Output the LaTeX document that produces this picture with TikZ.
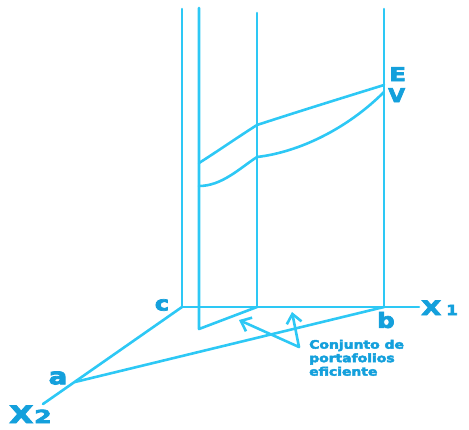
\documentclass[tikz,border=0pt]{standalone}
\usepackage{fontspec}
\newfontfamily\labfont{DejaVu Sans Bold}[FakeBold=3.5]
\usetikzlibrary{arrows.meta}
\definecolor{lineC}{RGB}{45,200,245}
\definecolor{textC}{RGB}{20,160,220}
\newcommand{\wide}[2]{\scalebox{#1}[1]{#2}}
\tikzset{
  ln/.style={draw=lineC, line width=2.6pt, line cap=round, line join=round},
  lab/.style={text=textC, inner sep=0pt, font=\labfont},
  arr/.style={ln, -{Straight Barb[length=9pt,width=15pt,line width=2.6pt]}}
}
\begin{document}
\begin{tikzpicture}[x=1pt,y=-1pt]
\useasboundingbox (0,0) rectangle (469,429);
% key points
\coordinate (c) at (182,307);
\coordinate (b) at (384,307);
\coordinate (a) at (75,382);
\coordinate (x2end) at (43,404);
\coordinate (x1end) at (419,307);
\coordinate (t1) at (182,9);
\coordinate (t2) at (199,8);
\coordinate (t3) at (257,13);
\coordinate (t4) at (384,9);
\coordinate (s2) at (199,329);
\coordinate (s3) at (257,307);
\coordinate (e1) at (199,163);
\coordinate (e2) at (257,125);
\coordinate (e3) at (384,85);
\coordinate (v1) at (199,186);
\coordinate (v2) at (257,157);
\coordinate (v3) at (384,92);
% axes
\draw[ln] (c) -- (x1end);
\draw[ln] (c) -- (x2end);
\draw[ln] (a) -- (b);
% verticals
\draw[ln] (t1) -- (c);
\draw[ln] (t2) -- (s2) -- (s3);
\draw[ln] (t3) -- (s3);
\draw[ln] (t4) -- (b);
% curves
\draw[ln] (e1) .. controls (218,151) and (238,137) .. (e2)
               .. controls (300,111) and (342,98) .. (e3);
\draw[ln] (v1) .. controls (222,186) and (240,168) .. (v2)
               .. controls (300,152) and (348,128) .. (v3);
% arrows
\coordinate (tail) at (299,347);
\coordinate (h1) at (239,320);
\coordinate (h2) at (292,312);
\draw[arr] (tail) -- (h1);
\draw[arr] (tail) -- (h2);
% labels
\node[lab, font=\labfont\fontsize{20}{20}\selectfont] (lc) at (162,305) {\wide{1.2}{c}};
\node[lab, font=\labfont\fontsize{21}{21}\selectfont] (lb) at (386,320) {\wide{1.15}{b}};
\node[lab, font=\labfont\fontsize{23}{23}\selectfont] (la) at (58,378) {\wide{1.2}{a}};
\node[lab, font=\labfont\fontsize{20}{20}\selectfont, anchor=base west] (lx1) at (421,315) {\wide{1.3}{X}};
\node[lab, font=\labfont\fontsize{14}{14}\selectfont, anchor=base west] (lx1s) at (446,315) {\wide{1.2}{1}};
\node[lab, font=\labfont\fontsize{24}{24}\selectfont, anchor=base west] (lx2) at (9,423) {\wide{1.3}{X}};
\node[lab, font=\labfont\fontsize{18}{18}\selectfont, anchor=base west] (lx2s) at (34,423) {\wide{1.4}{2}};
\node[lab, font=\labfont\fontsize{19}{19}\selectfont, anchor=base west] (lE) at (389,81) {\wide{1.3}{E}};
\node[lab, font=\labfont\fontsize{19}{19}\selectfont, anchor=base west] (lV) at (388,102) {\wide{1.15}{V}};
\node[lab, font=\labfont\fontsize{11.6}{13.5}\selectfont, anchor=north west] (txt) at (309,339)
  {\wide{1.2}{\begin{tabular}{@{}l@{}}Conjunto de\\portafolios\\eficiente\end{tabular}}};
\end{tikzpicture}
\end{document}
